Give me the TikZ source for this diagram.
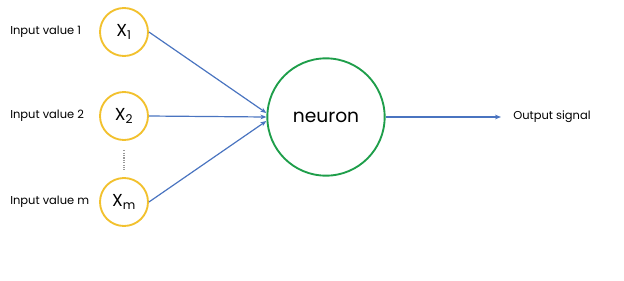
\documentclass[tikz,border=0pt]{standalone}
\usepackage{fontspec}
\setmainfont{Poppins}
\usetikzlibrary{arrows.meta,positioning}
\definecolor{inyellow}{HTML}{F2C12E}
\definecolor{neurgreen}{HTML}{1E9E4A}
\definecolor{linkblue}{HTML}{4A74C0}
\begin{document}
\begin{tikzpicture}[x=0.75pt, y=-0.75pt,
  inputnode/.style={circle, draw=inyellow, line width=1.4pt, fill=white, minimum size=36pt, inner sep=0pt, font=\fontsize{13}{15}\selectfont},
  neuronnode/.style={circle, draw=neurgreen, line width=1.4pt, fill=white, minimum size=88pt, inner sep=0pt, font=\fontsize{14}{16}\selectfont},
  labeltext/.style={anchor=west, inner sep=0pt, font=\fontsize{8.6}{10}\selectfont},
  link/.style={draw=linkblue, line width=0.9pt, -{Stealth[length=4.5pt, width=3.5pt]}}]
\useasboundingbox (0,0) rectangle (624,280);
% inputs
\node[inputnode] (x1) at (124,32) {X\textsubscript{1}};
\node[inputnode] (x2) at (124,116) {X\textsubscript{2}};
\node[inputnode] (xm) at (124,202) {X\textsubscript{m}};
\node[labeltext] (lab1) at (10,32) {Input value 1};
\node[labeltext] (lab2) at (10,116) {Input value 2};
\node[labeltext] (labm) at (10,202) {Input value m};
% neuron and output
\node[neuronnode] (neuron) at (326,117) {neuron};
\coordinate (outend) at (501,117);
\node[labeltext, right=9pt of outend] (outlab) {Output signal};
% connectors
\draw[gray!80, line width=0.8pt, densely dotted] ([yshift=-7pt]x2.south) -- ([yshift=5pt]xm.north);
\draw[link] (x1.east) -- ([yshift=3pt]neuron.west);
\draw[link] (x2.east) -- (neuron.west);
\draw[link] (xm.east) -- ([yshift=-3pt]neuron.west);
\draw[link] (neuron.east) -- (outend);
\end{tikzpicture}
\end{document}
